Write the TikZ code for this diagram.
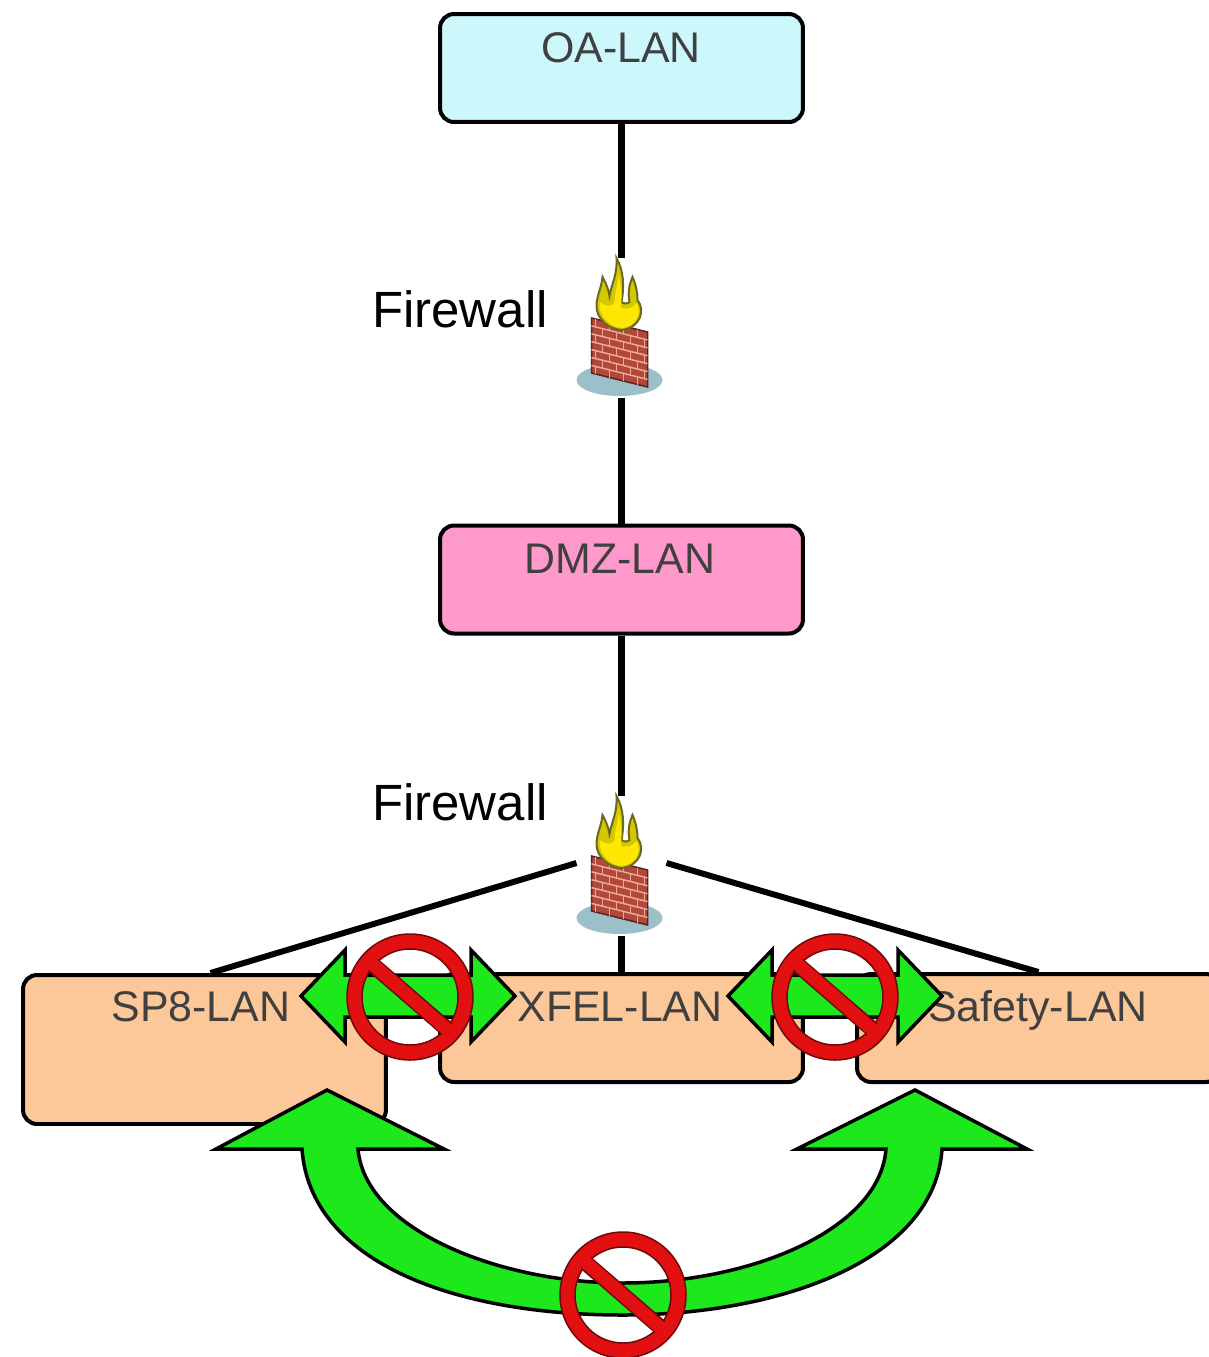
\documentclass[tikz,border=0pt]{standalone}
\usepackage{fontspec}
\setmainfont{Liberation Sans}
\definecolor{oacolor}{RGB}{204,248,251}
\definecolor{dmzcolor}{RGB}{255,153,204}
\definecolor{lancolor}{RGB}{252,200,153}
\definecolor{nogreen}{RGB}{28,232,28}
\definecolor{nored}{RGB}{226,16,16}
\definecolor{brick}{RGB}{178,72,58}
\definecolor{mortar}{RGB}{238,170,150}
\tikzset{
  lanbox/.style={draw=black, line width=0.08cm, rounded corners=0.28cm, minimum width=7.26cm, minimum height=2.16cm},
  lantext/.style={anchor=base, text=black!75, font=\fontsize{24.4}{24}\selectfont},
  fwtext/.style={anchor=base, text=black, font=\fontsize{29}{29}\selectfont},
  fwspot/.style={minimum width=1.8cm, minimum height=2.8cm, inner sep=0pt, outer sep=0pt},
  netline/.style={line width=0.13cm},
  pics/nosign/.style={code={
    \draw[draw=nored!50!black, line width=0.03cm, fill=nored, even odd rule] (0,0) circle (63) (0,0) circle (48);
    \draw[nored!50!black, line width=0.32cm] (-37,-32) -- (37,32);
    \draw[nored, line width=0.26cm] (-40,-35) -- (40,35);
  }},
  pics/nogo/.style={code={
    \draw[draw=black, line width=0.07cm, fill=nogreen, line join=miter]
      (-107,0) -- (-63,-46) -- (-63,-21) -- (63,-21) -- (63,-46) -- (107,0)
      -- (63,46) -- (63,21) -- (-63,21) -- (-63,46) -- cycle;
  }},
  pics/firewall/.style={code={
    \fill[blue!20!cyan!30!gray!60] (-2,52) ellipse (43 and 16);
    \fill[brick, draw=brick!50!black, line width=0.03cm] (-30,-10) -- (26,4) -- (26,59) -- (-30,45) -- cycle;
    \foreach \c in {1,...,6}
      \draw[mortar, line width=0.03cm] (-30,{-10+7.9*\c}) -- (26,{4+7.9*\c});
    \foreach \c in {0,...,6}
      \foreach \b in {0,1,2,3} {
        \pgfmathsetmacro{\bx}{-26+14*\b+7*mod(\c,2)}
        \pgfmathsetmacro{\by}{-10+7.9*\c+0.25*(\bx+30)}
        \draw[mortar, line width=0.02cm] (\bx,\by) -- (\bx,\by+7.9);
      }
    \draw[draw=olive!70!black, line width=0.04cm, fill=yellow!60!olive]
      (0,2) .. controls (-14,1) and (-25,-10) .. (-25,-22)
      .. controls (-25,-32) and (-20,-40) .. (-19,-51)
      .. controls (-15,-44) and (-13,-38) .. (-12,-32)
      .. controls (-10,-44) and (-4,-53) .. (-5,-70)
      .. controls (2,-58) and (3,-42) .. (0,-26)
      .. controls (3,-24) and (5,-24) .. (8,-26)
      .. controls (6,-36) and (8,-44) .. (11,-51)
      .. controls (15,-42) and (16,-34) .. (16,-28)
      .. controls (24,-18) and (19,0) .. (0,2) -- cycle;
    \fill[yellow!90!orange]
      (0,0) .. controls (-12,-1) and (-23,-12) .. (-22,-26)
      .. controls (-16,-22) and (-10,-20) .. (-7,-26)
      .. controls (-6,-40) and (-3,-45) .. (-3,-52)
      .. controls (0,-42) and (1,-30) .. (-1,-20)
      .. controls (4,-18) and (12,-20) .. (15,-25)
      .. controls (21,-14) and (14,-1) .. (0,0) -- cycle;
  }}
}
\begin{document}
\begin{tikzpicture}[x=0.02cm, y=-0.02cm]
  \useasboundingbox (0,0) rectangle (1209,1357);
  \clip (0,0) rectangle (1209,1357);

  % boxes
  \node[lanbox, fill=oacolor] (oa) at (621.5,68) {};
  \node[lanbox, fill=dmzcolor] (dmz) at (621.5,579.5) {};
  \node[lanbox, fill=lancolor, minimum height=2.98cm] (sp8) at (204.5,1049.5) {};
  \node[lanbox, fill=lancolor] (xfel) at (621.5,1028) {};
  \node[lanbox, fill=lancolor] (safety) at (1038.5,1028) {};

  \node[lantext] (oatext) at (621,62) {OA-LAN};
  \node[lantext] (dmztext) at (620,573) {DMZ-LAN};
  \node[lantext] (sp8text) at (201,1021) {SP8-LAN};
  \node[lantext] (xfeltext) at (620,1021) {XFEL-LAN};
  \node[lantext] (safetytext) at (1038,1021) {Safety-LAN};

  % firewalls
  \node[fwspot] (fwa) at (621.5,328) {};
  \node[fwspot] (fwb) at (621.5,866) {};
  \pic at (fwa) {firewall};
  \pic at (fwb) {firewall};
  \node[fwtext] (fwatext) at (460,327) {Firewall};
  \node[fwtext] (fwbtext) at (460,820) {Firewall};

  % links
  \draw[netline] (oa) -- (fwa);
  \draw[netline] (fwa) -- (dmz);
  \draw[netline] (dmz) -- (fwb);
  \draw[netline] (fwb) -- (xfel);
  \draw[line width=0.12cm] ([yshift=0.06cm]fwb.west) -- ([xshift=0.12cm]sp8.north);
  \draw[line width=0.12cm] ([yshift=0.06cm]fwb.east) -- (safety.north);

  % forbidden paths
  \pic at (408,996) {nogo};
  \pic at (835,996) {nogo};
  \draw[draw=black, line width=0.07cm, fill=nogreen, line join=miter]
    (302,1149) -- (216,1149) -- (327,1090) -- (444,1149) -- (358,1149)
    .. controls (365,1230) and (500,1283) .. (623,1283)
    .. controls (750,1283) and (880,1230) .. (886,1149)
    -- (797,1149) -- (915,1090) -- (1027,1149) -- (942,1149)
    .. controls (935,1260) and (780,1315) .. (623,1315)
    .. controls (450,1315) and (310,1260) .. (302,1149) -- cycle;
  \pic at (410,997) {nosign};
  \pic at (835,997) {nosign};
  \pic at (623,1295) {nosign};
\end{tikzpicture}
\end{document}
